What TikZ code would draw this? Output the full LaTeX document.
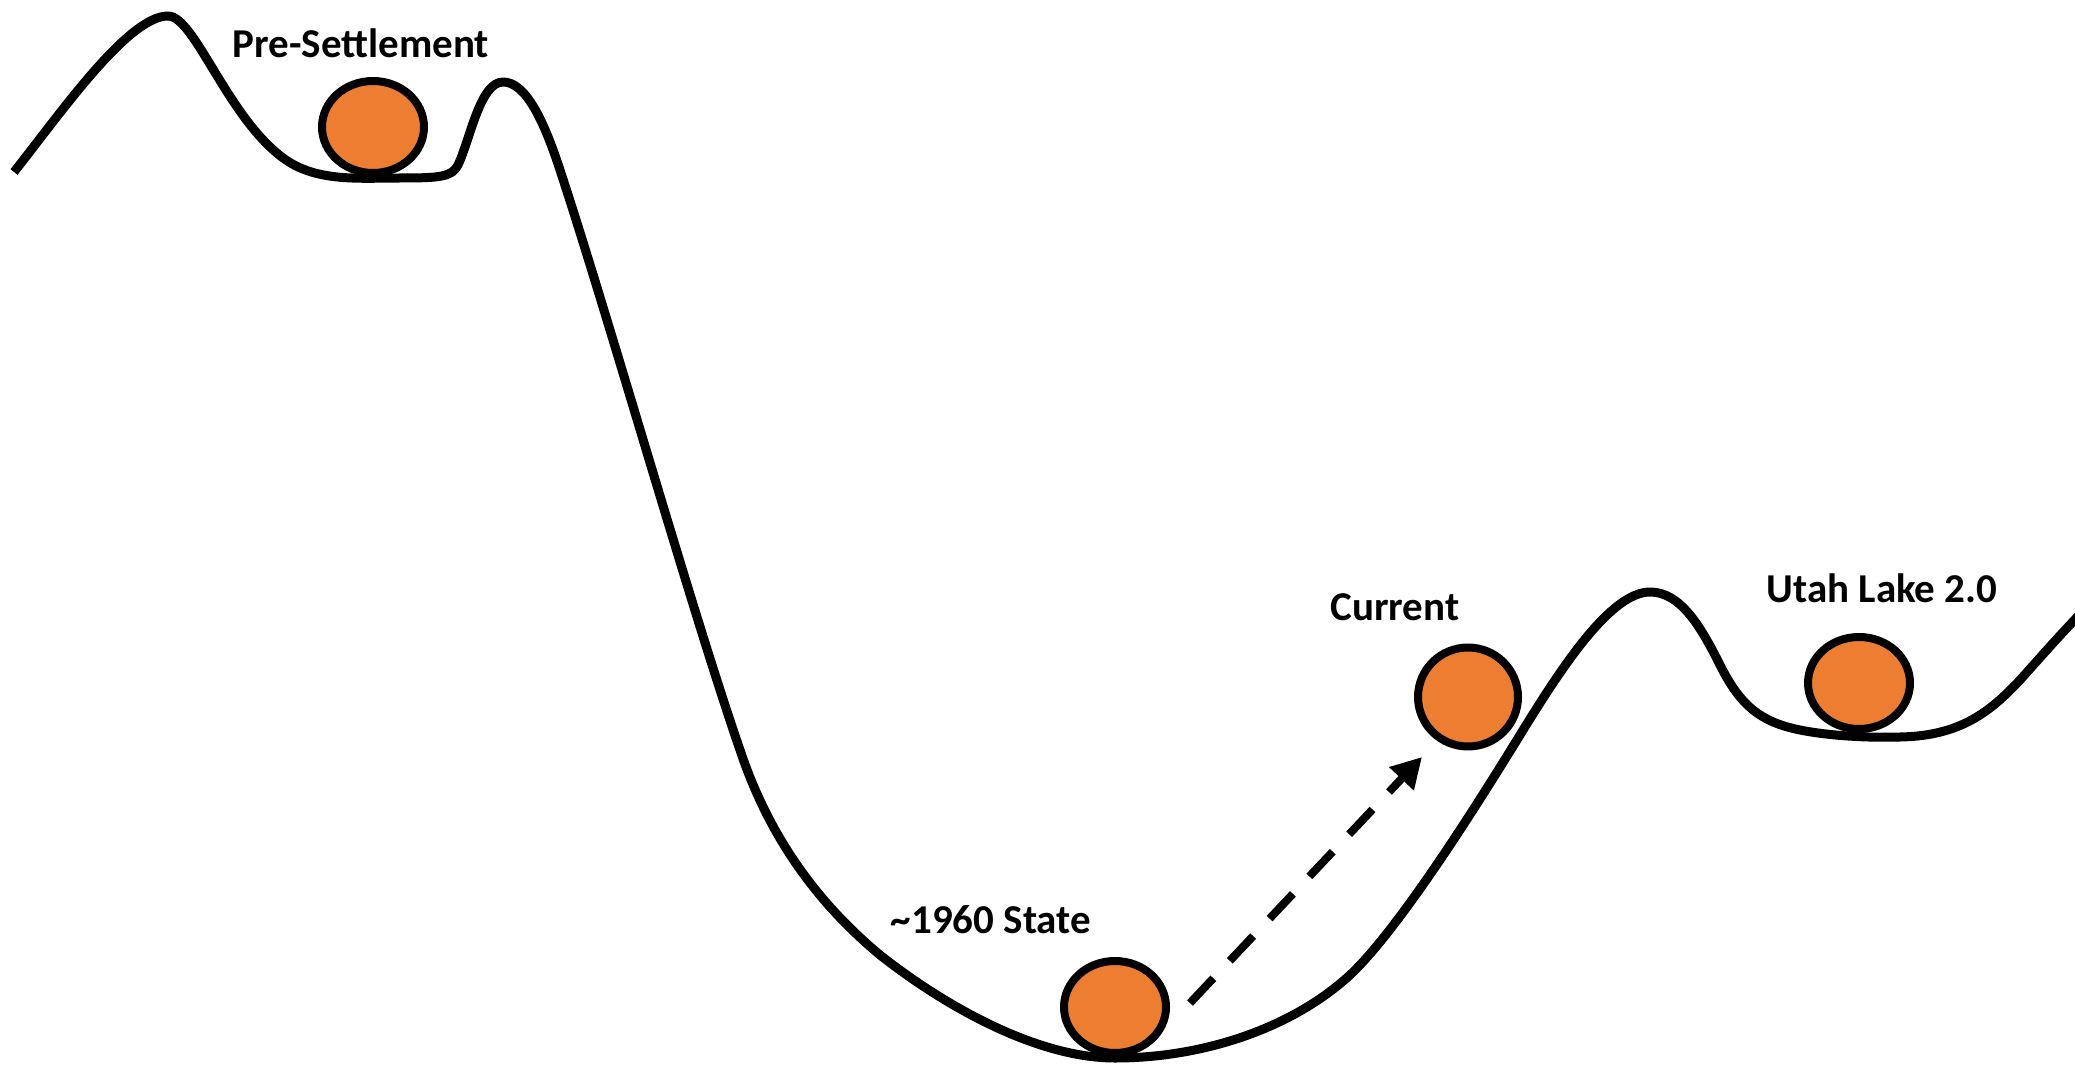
\documentclass[tikz,border=0pt]{standalone}
\usepackage{fontspec}
\setmainfont{Carlito}
\usetikzlibrary{arrows.meta,shapes.geometric}
\definecolor{ballorange}{HTML}{ED7D31}
\begin{document}
\begin{tikzpicture}[x=1pt,y=-1pt,
  terrain/.style={line width=9pt, line join=round, line cap=butt},
  ball/.style={ellipse, draw=black, fill=ballorange, line width=8pt, inner sep=0pt, minimum width=102pt, minimum height=92pt},
  lbl/.style={font=\fontsize{41}{49}\selectfont\bfseries, inner sep=0pt},
  flow/.style={line width=8pt, dash pattern=on 34pt off 24pt, -{Triangle[length=30pt,width=32pt]}}]
\useasboundingbox (0,0) rectangle (2075,1067);
\draw[terrain] (14,172)
  .. controls (60,114) and (128,16) .. (168,16)
  .. controls (195,16) and (228,120) .. (286,160)
  .. controls (318,182) and (360,178) .. (400,178)
  .. controls (440,178) and (452,177) .. (458,165)
  .. controls (470,140) and (480,82) .. (503,82)
  .. controls (525,82) and (543,118) .. (560,170)
  .. controls (610,322) and (690,605) .. (740,750)
  .. controls (770,840) and (820,905) .. (880,955)
  .. controls (950,1010) and (1040,1058) .. (1115,1058)
  .. controls (1200,1058) and (1290,1030) .. (1350,975)
  .. controls (1400,928) and (1480,800) .. (1520,735)
  .. controls (1560,670) and (1610,592) .. (1650,592)
  .. controls (1680,592) and (1700,625) .. (1720,665)
  .. controls (1740,705) and (1760,722) .. (1800,730)
  .. controls (1830,736) and (1870,738) .. (1900,737)
  .. controls (1960,736) and (1990,712) .. (2020,680)
  .. controls (2045,652) and (2060,635) .. (2082,612);
\node[ball] (bpre) at (373,127) {};
\node[ball] (b1960) at (1115,1007) {};
\node[ball, minimum width=100pt, minimum height=99pt] (bcur) at (1468,697) {};
\node[ball] (butah) at (1859,683) {};
\node[lbl] (lpre) at (361,43) {Pre-Settlement};
\node[lbl] (l1960) at (991,920) {\textasciitilde 1960 State};
\node[lbl] (lcur) at (1395,607) {Current};
\node[lbl] (lutah) at (1882,588) {Utah Lake 2.0};
\coordinate (afrom) at (1190,1003);
\coordinate (ato) at (1422,757);
\draw[flow] (afrom) -- (ato);
\end{tikzpicture}
\end{document}
